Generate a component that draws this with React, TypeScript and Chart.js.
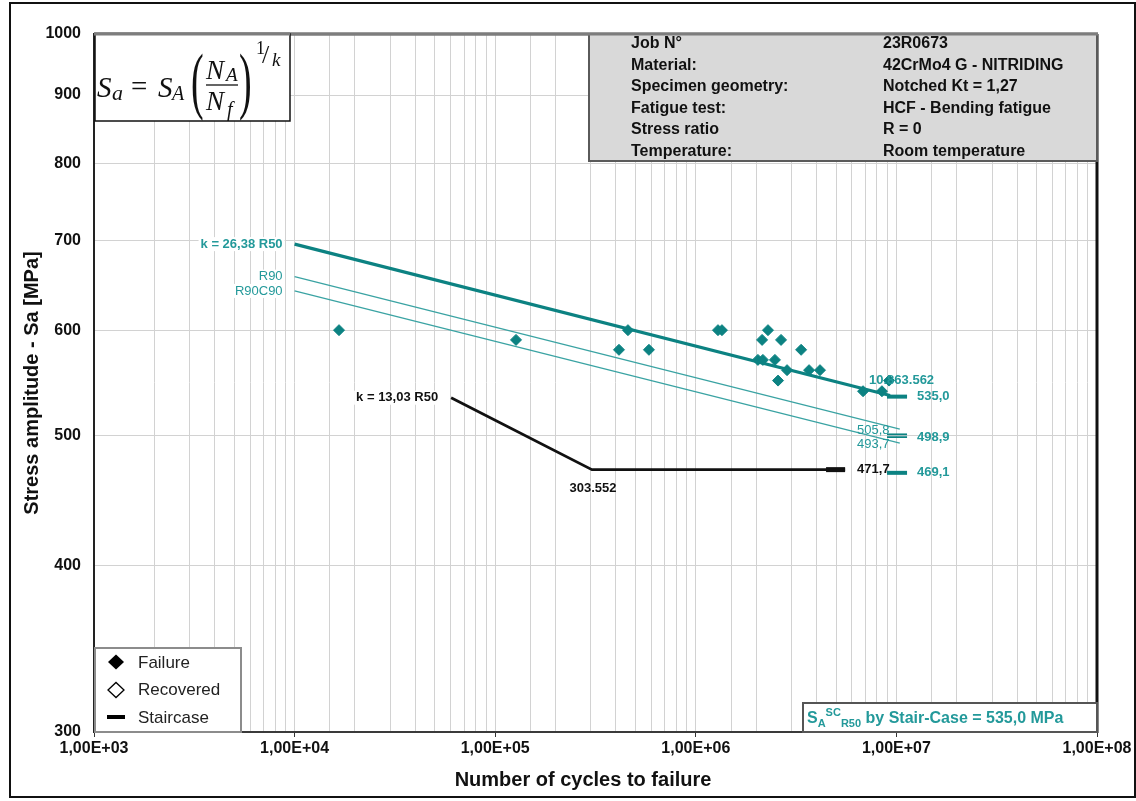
import React, { useEffect, useRef } from "react";
import { Chart, registerables } from "chart.js";
Chart.register(...registerables);

// ---------- data ----------
const failureCycles = [16650, 127000, 414000, 459000, 584000, 1290000, 1350000, 2040000, 2160000, 2290000, 2140000, 2660000, 2480000, 2850000, 2570000, 3350000, 3670000, 4160000, 6820000, 8470000, 9190000];
const failureStress = [600, 590, 580, 600, 580, 600, 600, 570, 570, 600, 590, 590, 570, 560, 550, 580, 560, 560, 540, 540, 550];

const r50Cycles = [1e4, 9.3e6];
const r50Stress = [696, 536];
const r90Cycles = [1e4, 1.04e7];
const r90Stress = [658, 505.8];
const r90c90Cycles = [1e4, 1.04e7];
const r90c90Stress = [642, 493.7];

const k13Cycles = [60300, 303552, 5550000];
const k13Stress = [534, 471.7, 471.7];
const k13EndCycles = [4460000, 5550000];
const k13EndStress = [471.7, 471.7];

const staircaseCycles = [8.98e6, 1.13e7];
const staircaseLevels = [535.0, 501.3, 498.9, 469.1];

const xTickExponents = [3, 4, 5, 6, 7, 8];
const yTickValues = [300, 400, 500, 600, 700, 800, 900, 1000];

const infoLabels = ["Job N°", "Material:", "Specimen geometry:", "Fatigue test:", "Stress ratio", "Temperature:"];
const infoValues = ["23R0673", "42CrMo4 G - NITRIDING", "Notched Kt = 1,27", "HCF - Bending fatigue", "R = 0", "Room temperature"];
const legendItems = ["Failure", "Recovered", "Staircase"];

const TEAL = "#0c8282";
const TEAL_LIGHT = "#3aa3a3";
const TEAL_TEXT = "#23999a";
const SANS = '"Liberation Sans", Arial, sans-serif';
const SERIF = '"Liberation Serif", "Times New Roman", serif';

const pts = (xs: number[], ys: number[]) => xs.map((x, i) => ({ x, y: ys[i] }));
const isDecade = (v: number) => Math.abs(Math.log10(v) - Math.round(Math.log10(v))) < 1e-9;

const overlayPlugin = {
  id: "overlay",
  afterDraw(chart: any) {
    const { ctx, chartArea: a } = chart;
    const xs = chart.scales.x;
    const ys = chart.scales.y;
    const X = (v: number) => xs.getPixelForValue(v);
    const Y = (v: number) => ys.getPixelForValue(v);
    ctx.save();

    const line = (x1: number, y1: number, x2: number, y2: number, color: string, w: number) => {
      ctx.beginPath();
      ctx.strokeStyle = color;
      ctx.lineWidth = w;
      ctx.moveTo(x1, y1);
      ctx.lineTo(x2, y2);
      ctx.stroke();
    };
    const text = (s: string, x: number, y: number, font: string, color: string, align: CanvasTextAlign = "left", baseline: CanvasTextBaseline = "middle", bg = false) => {
      ctx.font = font;
      ctx.textAlign = align;
      ctx.textBaseline = baseline;
      if (bg) {
        const w = ctx.measureText(s).width;
        const x0 = align === "right" ? x - w : align === "center" ? x - w / 2 : x;
        ctx.fillStyle = "#fff";
        ctx.fillRect(x0 - 2, y - 7, w + 4, 14);
      }
      ctx.fillStyle = color;
      ctx.fillText(s, x, y);
      return ctx.measureText(s).width;
    };

    // plot frame top / right
    line(a.left, a.top, a.right + 1, a.top, "#7d7d7d", 3);
    line(a.right, a.top, a.right, a.bottom + 1, "#111", 3);

    // ---- annotations ----
    const xStart = X(r50Cycles[0]);
    text("k = 26,38 R50", xStart - 12, Y(r50Stress[0]), `bold 13px ${SANS}`, TEAL_TEXT, "right", "middle", true);
    text("R90", xStart - 12, Y(r90Stress[0]), `13px ${SANS}`, TEAL_TEXT, "right", "middle", true);
    text("R90C90", xStart - 12, Y(r90c90Stress[0]), `13px ${SANS}`, TEAL_TEXT, "right", "middle", true);
    text("k = 13,03 R50", X(k13Cycles[0]) - 13, Y(k13Stress[0]), `bold 13px ${SANS}`, "#111", "right", "middle", true);
    text("303.552", X(k13Cycles[1]) + 1, Y(k13Stress[1]) + 19, `bold 13px ${SANS}`, "#111", "center");
    text("471,7", X(k13Cycles[2]) + 12, Y(k13Stress[2]), `bold 13px ${SANS}`, "#111");

    const sx = X(staircaseCycles[0]);
    const sxR = X(staircaseCycles[1]);
    text("10.863.562", sx - 18, Y(staircaseLevels[0]) - 16, `bold 13px ${SANS}`, TEAL_TEXT);
    text("535,0", sxR + 10, Y(staircaseLevels[0]), `bold 13px ${SANS}`, TEAL_TEXT);
    text("498,9", sxR + 10, Y(staircaseLevels[2]), `bold 13px ${SANS}`, TEAL_TEXT);
    text("469,1", sxR + 10, Y(staircaseLevels[3]), `bold 13px ${SANS}`, TEAL_TEXT);
    text("505,8", sx - 30, Y(r90Stress[1]) + 1, `13px ${SANS}`, TEAL_TEXT);
    text("493,7", sx - 30, Y(r90c90Stress[1]) + 1, `13px ${SANS}`, TEAL_TEXT);

    // ---- info box ----
    const bx = 589, by = a.top, bw = a.right - 589, bh = 127;
    ctx.fillStyle = "#d9d9d9";
    ctx.fillRect(bx, by, bw, bh);
    ctx.strokeStyle = "#5a5a5a";
    ctx.lineWidth = 2;
    ctx.strokeRect(bx, by, bw, bh);
    line(a.left, a.top, a.right + 1, a.top, "#7d7d7d", 3);
    infoLabels.forEach((s, i) => {
      const yy = by + 10 + i * 21.5;
      text(s, 631, yy, `bold 16px ${SANS}`, "#111");
      text(infoValues[i], 883, yy, `bold 16px ${SANS}`, "#111");
    });

    // ---- formula box ----
    ctx.fillStyle = "#fff";
    ctx.fillRect(a.left + 1, a.top + 1, 195, 86);
    ctx.strokeStyle = "#111";
    ctx.lineWidth = 1.5;
    ctx.strokeRect(a.left + 1, a.top, 195, 87);
    line(a.left, a.top, a.left + 196, a.top, "#7d7d7d", 3);
    const it = (px: number) => `italic ${px}px ${SERIF}`;
    const rm = (px: number) => `${px}px ${SERIF}`;
    text("S", 97, 97, it(29), "#111", "left", "alphabetic");
    text("a", 112, 100, it(22), "#111", "left", "alphabetic");
    text("=", 131, 96, rm(29), "#111", "left", "alphabetic");
    text("S", 158, 97, it(29), "#111", "left", "alphabetic");
    text("A", 172, 100, it(20), "#111", "left", "alphabetic");
    const paren = (ch: string, px: number) => {
      ctx.save();
      ctx.translate(px, 87);
      ctx.scale(1, 1.95);
      ctx.font = rm(38);
      ctx.textAlign = "left";
      ctx.textBaseline = "alphabetic";
      ctx.fillStyle = "#111";
      ctx.fillText(ch, 0, 0.24 * 38);
      ctx.restore();
    };
    paren("(", 191);
    text("N", 206, 79, it(27), "#111", "left", "alphabetic");
    text("A", 226, 81, it(19), "#111", "left", "alphabetic");
    line(206, 85, 238, 85, "#111", 1.3);
    text("N", 206, 110, it(27), "#111", "left", "alphabetic");
    text("f", 227, 116, it(20), "#111", "left", "alphabetic");
    paren(")", 239);
    text("1", 256, 54, rm(18), "#111", "left", "alphabetic");
    text("/", 262, 63, rm(26), "#111", "left", "alphabetic");
    text("k", 272, 66, it(19), "#111", "left", "alphabetic");

    // ---- legend box ----
    ctx.fillStyle = "#fff";
    ctx.fillRect(a.left + 1, 648, 146, a.bottom - 649);
    ctx.strokeStyle = "#8c8c8c";
    ctx.lineWidth = 2;
    ctx.strokeRect(a.left + 1, 648, 146, a.bottom - 648);
    const diamond = (cx: number, cy: number, filled: boolean) => {
      ctx.beginPath();
      ctx.moveTo(cx - 8, cy);
      ctx.lineTo(cx, cy - 7.5);
      ctx.lineTo(cx + 8, cy);
      ctx.lineTo(cx, cy + 7.5);
      ctx.closePath();
      if (filled) {
        ctx.fillStyle = "#000";
        ctx.fill();
      } else {
        ctx.strokeStyle = "#000";
        ctx.lineWidth = 1.3;
        ctx.stroke();
      }
    };
    diamond(116, 662, true);
    diamond(116, 690, false);
    ctx.fillStyle = "#000";
    ctx.fillRect(107, 715, 18, 4);
    legendItems.forEach((s, i) => text(s, 138, 663 + i * 27.5, `17px ${SANS}`, "#222"));

    // ---- stair-case box ----
    ctx.fillStyle = "#fff";
    ctx.fillRect(803, 703, a.right - 803, a.bottom - 703);
    ctx.strokeStyle = "#555";
    ctx.lineWidth = 2;
    ctx.strokeRect(803, 703, a.right - 803, a.bottom - 703);
    let cx = 807;
    cx += text("S", cx, 723, `bold 16px ${SANS}`, TEAL_TEXT, "left", "alphabetic");
    const wA = text("A", cx, 727, `bold 11px ${SANS}`, TEAL_TEXT, "left", "alphabetic");
    cx += wA;
    cx += text("SC", cx, 716, `bold 11px ${SANS}`, TEAL_TEXT, "left", "alphabetic");
    cx += text("R50", cx, 727, `bold 11px ${SANS}`, TEAL_TEXT, "left", "alphabetic");
    text(" by Stair-Case = 535,0 MPa", cx, 723, `bold 16px ${SANS}`, TEAL_TEXT, "left", "alphabetic");

    // ---- axis titles ----
    text("Number of cycles to failure", 583, 780, `bold 20px ${SANS}`, "#111", "center");
    ctx.save();
    ctx.translate(32, (a.top + a.bottom) / 2);
    ctx.rotate(-Math.PI / 2);
    text("Stress amplitude - Sa [MPa]", 0, 0, `bold 20px ${SANS}`, "#111", "center");
    ctx.restore();

    // ---- outer frame ----
    ctx.strokeStyle = "#111";
    ctx.lineWidth = 2;
    ctx.strokeRect(10, 3, 1125, 794);

    ctx.restore();
  },
};

export default function App() {
  const ref = useRef<HTMLCanvasElement>(null);
  useEffect(() => {
    if (!ref.current) return;
    const stair = staircaseLevels.map((lv, i) => ({
      label: `Staircase ${i}`,
      data: pts(staircaseCycles, [lv, lv]),
      showLine: true,
      borderColor: TEAL,
      borderWidth: i === 1 || i === 2 ? 1.8 : 4,
      pointRadius: 0,
    }));
    const chart = new Chart(ref.current, {
      type: "scatter",
      data: {
        datasets: [
          { label: "R90", data: pts(r90Cycles, r90Stress), showLine: true, borderColor: TEAL_LIGHT, borderWidth: 1.3, pointRadius: 0 },
          { label: "R90C90", data: pts(r90c90Cycles, r90c90Stress), showLine: true, borderColor: TEAL_LIGHT, borderWidth: 1.3, pointRadius: 0 },
          { label: "R50", data: pts(r50Cycles, r50Stress), showLine: true, borderColor: TEAL, borderWidth: 3.2, pointRadius: 0 },
          { label: "k13", data: pts(k13Cycles, k13Stress), showLine: true, borderColor: "#111", borderWidth: 2.8, pointRadius: 0 },
          { label: "k13end", data: pts(k13EndCycles, k13EndStress), showLine: true, borderColor: "#111", borderWidth: 5, pointRadius: 0 },
          ...stair,
          {
            label: "Failure",
            data: pts(failureCycles, failureStress),
            pointStyle: "rectRot",
            pointRadius: 5.5,
            borderWidth: 1,
            backgroundColor: TEAL,
            borderColor: TEAL,
          },
        ] as any,
      },
      options: {
        animation: false,
        responsive: false,
        devicePixelRatio: 1,
        layout: { padding: { left: 0, right: 39, top: 34, bottom: 0 } },
        plugins: { legend: { display: false }, tooltip: { enabled: false }, title: { display: false } },
        scales: {
          x: {
            type: "logarithmic",
            min: 1e3,
            max: 1e8,
            afterFit: (s: any) => { s.height = 69; },
            grid: {
              color: "#d2d2d2",
              lineWidth: 1,
              drawTicks: true,
              tickLength: 5,
              tickColor: (c: any) => (c.tick && isDecade(c.tick.value) ? "#333" : "rgba(0,0,0,0)"),
            },
            border: { display: true, color: "#3a3a3a", width: 2 },
            ticks: {
              autoSkip: false,
              maxRotation: 0,
              padding: 2,
              color: "#111",
              font: { family: SANS, size: 16, weight: "bold" },
              callback: (v: any) => {
                const e = Math.round(Math.log10(v));
                return isDecade(v) && xTickExponents.includes(e) ? `1,00E+${String(e).padStart(2, "0")}` : "";
              },
            },
          },
          y: {
            type: "logarithmic",
            min: 300,
            max: 1000,
            afterFit: (s: any) => { s.width = 94; },
            afterBuildTicks: (s: any) => { s.ticks = yTickValues.map((v) => ({ value: v })); },
            grid: { color: "#d2d2d2", lineWidth: 1, drawTicks: false },
            border: { display: true, color: "#222", width: 2 },
            ticks: {
              autoSkip: false,
              padding: 13,
              color: "#111",
              font: { family: SANS, size: 16, weight: "bold" },
              callback: (v: any) => String(Math.round(v)),
            },
          },
        },
      } as any,
      plugins: [overlayPlugin],
    });
    return () => chart.destroy();
  }, []);
  return (
    <div style={{ position: "absolute", left: 0, top: 0, width: 1136, height: 801, background: "#fff" }}>
      <canvas ref={ref} width={1136} height={801} style={{ display: "block" }} />
    </div>
  );
}
